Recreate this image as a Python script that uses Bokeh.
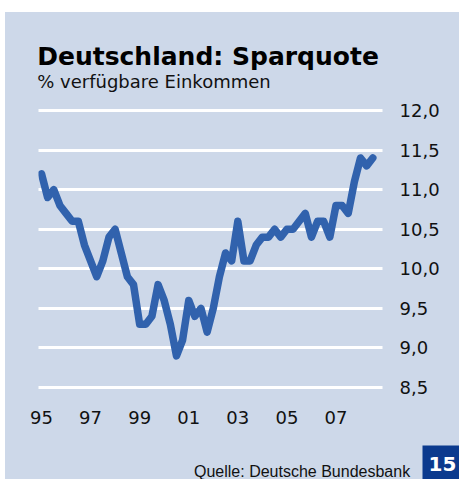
from bokeh.plotting import figure
from bokeh.models import FixedTicker, Range1d, Spacer
from bokeh.layouts import column, row
from bokeh.core.properties import value
from bokeh.embed import file_html
from bokeh.resources import INLINE

# ---- data (quarterly, 1995Q1 .. 2008Q3) ----
start_year = 1995
sparquote = [11.2, 10.9, 11.0, 10.8, 10.7, 10.6, 10.6, 10.3, 10.1, 9.9,
             10.1, 10.4, 10.5, 10.2, 9.9, 9.8, 9.3, 9.3, 9.4, 9.8,
             9.6, 9.3, 8.9, 9.1, 9.6, 9.4, 9.5, 9.2, 9.5, 9.9,
             10.2, 10.1, 10.6, 10.1, 10.1, 10.3, 10.4, 10.4, 10.5, 10.4,
             10.5, 10.5, 10.6, 10.7, 10.4, 10.6, 10.6, 10.4, 10.8, 10.8,
             10.7, 11.1, 11.4, 11.3, 11.4]
x_tick_years = [1995, 1997, 1999, 2001, 2003, 2005, 2007]
x_tick_labels = ["95", "97", "99", "01", "03", "05", "07"]
y_ticks = [8.5, 9.0, 9.5, 10.0, 10.5, 11.0, 11.5, 12.0]
y_tick_labels = ["8,5", "9,0", "9,5", "10,0", "10,5", "11,0", "11,5", "12,0"]
title_text = "Deutschland: Sparquote"
subtitle_text = "% verfügbare Einkommen"
source_text = "Quelle: Deutsche Bundesbank"
page_number = "15"

xs = [start_year + i / 4 for i in range(len(sparquote))]

BG = "#CDD8E9"
LINE = "#3162AD"
BOX = "#0B3A8E"
W = 454


def panel(height):
    f = figure(width=W, height=height, x_range=Range1d(0, W),
               y_range=Range1d(height, 0), x_axis_type=None, y_axis_type=None,
               toolbar_location=None, output_backend="svg",
               min_border=0, background_fill_color=BG, border_fill_color=None,
               outline_line_color=None, frame_align=False)
    f.grid.visible = False
    return f


# ---- header ----
header = panel(83)
header.text(x=[31.7], y=[44], text=[title_text],
            text_font=value("DejaVu Sans"), text_font_size=value("25px"),
            text_font_style="bold", text_color="black",
            text_baseline="alphabetic")
header.text(x=[31.7], y=[69], text=[subtitle_text],
            text_font=value("DejaVu Sans"), text_font_size=value("18px"),
            text_color="#111111", text_baseline="alphabetic")

# ---- main chart ----
p = figure(width=W, height=345,
           x_range=(1994.878, 2008.896), y_range=(8.45, 12.05),
           y_axis_location="right", toolbar_location=None,
           output_backend="svg",
           min_border_left=33, min_border_right=77,
           min_border_top=11, min_border_bottom=49,
           background_fill_color=BG, border_fill_color=None,
           outline_line_color=None, frame_align=False)

p.xgrid.visible = False
p.ygrid.ticker = FixedTicker(ticks=y_ticks)
p.ygrid.grid_line_color = "white"
p.ygrid.grid_line_width = 3
p.ygrid.grid_line_cap = "round"

xa = p.xaxis[0]
xa.ticker = FixedTicker(ticks=x_tick_years)
xa.major_label_overrides = {y: l for y, l in zip(x_tick_years, x_tick_labels)}
xa.axis_line_color = None
xa.major_tick_line_color = None
xa.minor_tick_line_color = None
xa.major_tick_out = 0
xa.major_tick_in = 0
xa.major_label_standoff = 19
xa.major_label_text_font = "DejaVu Sans"
xa.major_label_text_font_size = "18px"
xa.major_label_text_color = "#111111"

ya = p.yaxis[0]
ya.ticker = FixedTicker(ticks=y_ticks)
ya.major_label_overrides = {y: l for y, l in zip(y_ticks, y_tick_labels)}
ya.axis_line_color = None
ya.major_tick_line_color = None
ya.minor_tick_line_color = None
ya.major_tick_out = 0
ya.major_tick_in = 0
ya.major_label_standoff = 17
ya.major_label_text_font = "DejaVu Sans"
ya.major_label_text_font_size = "18px"
ya.major_label_text_color = "#111111"

p.line(xs, sparquote, line_color=LINE, line_width=7.5,
       line_join="round", line_cap="round")

# ---- footer ----
footer = panel(39)
footer.text(x=[188.5], y=[30.5], text=[source_text],
            text_font=value("Liberation Sans"), text_font_size=value("16px"),
            text_color="#111111", text_baseline="alphabetic")
footer.quad(left=[417], right=[W], top=[5], bottom=[39],
            fill_color=BOX, line_color=None)
footer.text(x=[437], y=[23.2], text=[page_number],
            text_font=value("DejaVu Sans"), text_font_size=value("20px"),
            text_font_style="bold", text_color="white",
            text_align="center", text_baseline="middle")

body = column(header, p, footer, styles={"background-color": BG})
layout = column(Spacer(width=459, height=12),
                row(Spacer(width=5, height=467), body))

open("out.html", "w").write(file_html(layout, INLINE))
